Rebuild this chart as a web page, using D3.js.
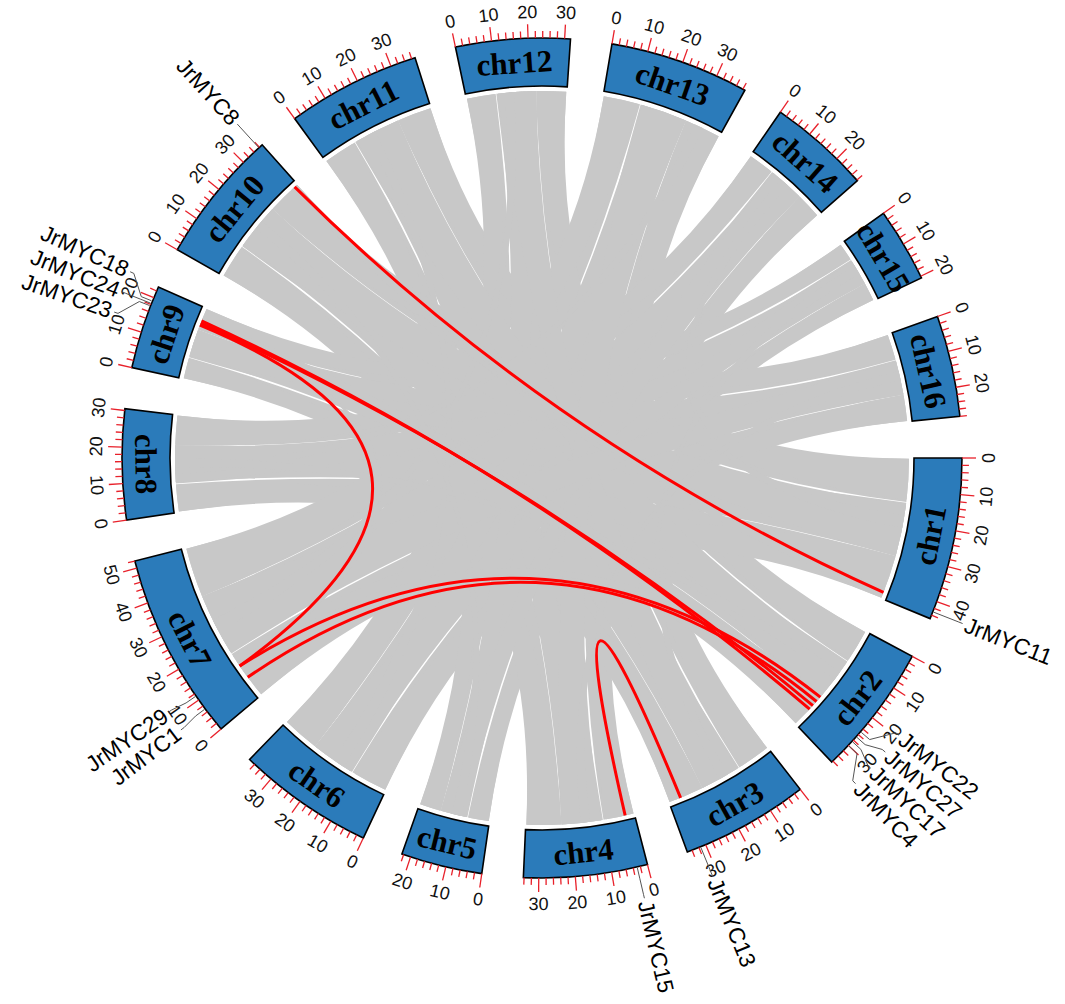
<!DOCTYPE html>
<html>
<head>
<meta charset="utf-8">
<script src="https://cdn.jsdelivr.net/npm/d3@7"></script>
<style>
  body { margin: 0; background: #fff; }
</style>
</head>
<body>
<svg id="chart" width="1065" height="1004"></svg>
<script>
// chromosome sizes (Mb)
const chromNames = ['chr1', 'chr2', 'chr3', 'chr4', 'chr5', 'chr6', 'chr7', 'chr8',
  'chr9', 'chr10', 'chr11', 'chr12', 'chr13', 'chr14', 'chr15', 'chr16'];
const chromLengths = [45, 36.4, 35.4, 34.2, 22.5, 37.9, 52, 30.5, 23.2, 37, 37, 31.6, 38.6, 28.2, 20.5, 28];

// JrMYC genes: chromosome and position (Mb)
const geneNames = ['JrMYC11', 'JrMYC22', 'JrMYC27', 'JrMYC17', 'JrMYC4', 'JrMYC13', 'JrMYC15',
  'JrMYC1', 'JrMYC29', 'JrMYC23', 'JrMYC24', 'JrMYC18', 'JrMYC8'];
const geneChroms = ['chr1', 'chr2', 'chr2', 'chr2', 'chr2', 'chr3', 'chr4',
  'chr7', 'chr7', 'chr9', 'chr9', 'chr9', 'chr10'];
const genePositions = [43, 25, 26.8, 28.5, 30, 31.5, 2.9, 7, 11.3, 17.6, 18.3, 19, 35.8];

// segmental duplication pairs (red links)
const pairFrom = ['JrMYC8', 'JrMYC18', 'JrMYC24', 'JrMYC23', 'JrMYC29', 'JrMYC1', 'JrMYC15'];
const pairTo = ['JrMYC11', 'JrMYC4', 'JrMYC17', 'JrMYC29', 'JrMYC22', 'JrMYC27', 'JrMYC13'];

// collinear blocks: [chrA, startA, endA, chrB, startB, endB] (Mb)
const syntenyBlocks = [
  ['chr1', 0.2, 13.8, 'chr10', 26.2, 36.8],
  ['chr2', 0.2, 10.8, 'chr11', 26.2, 36.8],
  ['chr3', 0.2, 10.8, 'chr12', 22.2, 31.4],
  ['chr4', 0.2, 9.8, 'chr13', 27.2, 38.4],
  ['chr5', 0.2, 6.8, 'chr14', 20.2, 28],
  ['chr6', 0.2, 11.8, 'chr15', 14.7, 20.3],
  ['chr7', 0.2, 15.8, 'chr16', 19.7, 27.8],
  ['chr8', 0.2, 8.8, 'chr1', 31.2, 44.8],
  ['chr9', 0.2, 6.8, 'chr2', 25.2, 36.2],
  ['chr10', 0.2, 10.8, 'chr3', 24.2, 35.2],
  ['chr11', 0.2, 10.8, 'chr4', 23.2, 34],
  ['chr12', 0.2, 9.3, 'chr5', 15.7, 22.3],
  ['chr13', 0.2, 11.8, 'chr6', 26.2, 37.7],
  ['chr14', 0.2, 8.3, 'chr7', 36.2, 51.8],
  ['chr15', 0.2, 5.8, 'chr8', 21.2, 30.3],
  ['chr16', 0.2, 8.3, 'chr9', 16.2, 23],
  ['chr1', 0.2, 13, 'chr11', 26, 36.8],
  ['chr2', 0.2, 10, 'chr12', 22, 31.4],
  ['chr3', 0.2, 10, 'chr13', 27, 38.4],
  ['chr4', 0.2, 9, 'chr14', 20, 28],
  ['chr5', 0.2, 6.5, 'chr15', 14.5, 20.3],
  ['chr6', 0.2, 11, 'chr16', 19.5, 27.8],
  ['chr7', 0.2, 15, 'chr1', 31, 44.8],
  ['chr8', 0.2, 8.5, 'chr2', 25, 36.2],
  ['chr9', 0.2, 6.5, 'chr3', 24, 35.2],
  ['chr10', 0.2, 10, 'chr4', 23, 34],
  ['chr11', 0.2, 10, 'chr5', 15.5, 22.3],
  ['chr12', 0.2, 9, 'chr6', 26, 37.7],
  ['chr13', 0.2, 11, 'chr7', 36, 51.8],
  ['chr14', 0.2, 8, 'chr8', 21, 30.3],
  ['chr15', 0.2, 5.5, 'chr9', 16, 23],
  ['chr16', 0.2, 8, 'chr10', 26, 36.8],
  ['chr1', 14, 30.8, 'chr9', 7, 15.8],
  ['chr2', 11, 25, 'chr10', 11, 26],
  ['chr3', 11, 24, 'chr11', 11, 26],
  ['chr4', 10, 23, 'chr12', 9.5, 22],
  ['chr5', 7, 15.5, 'chr13', 12, 27],
  ['chr6', 12, 26, 'chr14', 8.5, 20],
  ['chr7', 16, 36, 'chr15', 6, 14.5],
  ['chr8', 9, 21, 'chr16', 8.5, 19.5],
  ['chr1', 14.5, 31, 'chr8', 9.5, 21],
  ['chr2', 11.5, 25, 'chr9', 7.5, 16],
  ['chr3', 11.5, 24, 'chr10', 11.5, 26],
  ['chr4', 10.5, 23, 'chr11', 11.5, 26],
  ['chr5', 7.5, 15.5, 'chr12', 10, 22],
  ['chr6', 12.5, 26, 'chr13', 12.5, 27],
  ['chr7', 16.5, 36, 'chr14', 9, 20],
  ['chr8', 9.5, 21, 'chr15', 6.5, 14.5],
  ['chr9', 7.5, 16, 'chr16', 9, 19.5],
  ['chr10', 11.5, 26, 'chr1', 14.5, 31],
  ['chr11', 11.5, 26, 'chr2', 11.5, 25],
  ['chr12', 10, 22, 'chr3', 11.5, 24],
  ['chr13', 12.5, 27, 'chr4', 10.5, 23],
  ['chr14', 9, 20, 'chr5', 7.5, 15.5],
  ['chr15', 6.5, 14.5, 'chr6', 12.5, 26],
  ['chr16', 9, 19.5, 'chr7', 16.5, 36],
  ['chr9', 17, 20, 'chr2', 27.5, 31],
  ['chr7', 6, 12, 'chr2', 24, 27.5],
  ['chr9', 16.5, 18.5, 'chr7', 10.5, 13],
  ['chr3', 30, 33, 'chr4', 1.5, 4.5],
  ['chr10', 34.5, 36.8, 'chr1', 41.5, 44.5],
  ['chr11', 15, 18, 'chr6', 15, 19],
  ['chr13', 30, 33, 'chr8', 12, 15],
  ['chr14', 12, 15, 'chr1', 18, 22],
  ['chr16', 12, 15, 'chr4', 14, 17],
  ['chr12', 12, 15, 'chr7', 24, 28],
  ['chr10', 18, 21, 'chr5', 9, 12],
  ['chr15', 8, 11, 'chr3', 15, 18],
  ['chr8', 14, 17, 'chr2', 15, 18]
];

const tickStep = 2;
const labelStep = 10;

const width = 1065, height = 1004;
const cx = 542, cy = 458;
const rIn = 372, rOut = 420, rLink = 367;
const gapDeg = 5.7, startDeg = 90;

const svg = d3.select('#chart');
const g = svg.append('g').attr('transform', `translate(${cx},${cy})`);

const totalLen = d3.sum(chromLengths);
const lenToDeg = d3.scaleLinear().domain([0, totalLen]).range([0, 360 - gapDeg * chromNames.length]);
const cum = d3.cumsum(chromLengths);
const chromStart = chromNames.map((c, i) => startDeg + lenToDeg(cum[i] - chromLengths[i]) + i * gapDeg);
const chromIndex = new Map(chromNames.map((c, i) => [c, i]));

const rad = (d) => (d * Math.PI) / 180;
const angleOf = (chr, pos) => chromStart[chromIndex.get(chr)] + lenToDeg(pos);
const pt = (r, deg) => [r * Math.sin(rad(deg)), -r * Math.cos(rad(deg))];
const norm = (deg) => ((deg % 360) + 360) % 360;
const tangentRot = (deg) => {
  const a = norm(deg);
  return a > 90 && a < 270 ? a - 180 : a;
};

// grey collinear ribbons
const ribbon = d3.ribbon().radius(rLink);
g.append('g')
  .selectAll('path')
  .data(syntenyBlocks)
  .join('path')
  .attr('d', (d) => ribbon({
    source: { startAngle: rad(angleOf(d[0], d[1])), endAngle: rad(angleOf(d[0], d[2])) },
    target: { startAngle: rad(angleOf(d[3], d[4])), endAngle: rad(angleOf(d[3], d[5])) }
  }))
  .attr('fill', '#c8c8c8');

// red gene-pair links
const geneAngle = new Map(geneNames.map((n, i) => [n, angleOf(geneChroms[i], genePositions[i])]));
function linkPath(a1, a2) {
  const diff = norm(a2 - a1);
  const mid = diff > 180 ? a1 - (360 - diff) / 2 : a1 + diff / 2;
  const p = d3.path();
  const [x1, y1] = pt(rLink, a1);
  const [x2, y2] = pt(rLink, a2);
  const [qx, qy] = pt(18, mid);
  p.moveTo(x1, y1);
  p.quadraticCurveTo(qx, qy, x2, y2);
  return p.toString();
}
g.append('g')
  .selectAll('path')
  .data(pairFrom.map((f, i) => [f, pairTo[i]]))
  .join('path')
  .attr('d', (d) => linkPath(geneAngle.get(d[0]), geneAngle.get(d[1])))
  .attr('fill', 'none')
  .attr('stroke', '#ff0000')
  .attr('stroke-width', 3);

// chromosome blocks
const arc = d3.arc().innerRadius(rIn).outerRadius(rOut);
const chromG = g.append('g')
  .selectAll('g')
  .data(chromNames.map((c, i) => ({ name: c, len: chromLengths[i], start: chromStart[i], end: chromStart[i] + lenToDeg(chromLengths[i]) })))
  .join('g');

chromG.append('path')
  .attr('d', (d) => arc({ startAngle: rad(d.start), endAngle: rad(d.end) }))
  .attr('fill', '#2b7bba')
  .attr('stroke', '#000')
  .attr('stroke-width', 1.6);

chromG.append('text')
  .attr('transform', (d) => {
    const m = (d.start + d.end) / 2;
    const [x, y] = pt((rIn + rOut) / 2, m);
    return `translate(${x},${y}) rotate(${tangentRot(m)})`;
  })
  .attr('text-anchor', 'middle')
  .attr('dominant-baseline', 'central')
  .attr('font-family', '"Liberation Serif", "Times New Roman", serif')
  .attr('font-weight', 'bold')
  .attr('font-size', 31)
  .attr('fill', '#000')
  .text((d) => d.name);

// ticks
chromG.each(function (d) {
  const ticks = d3.range(0, d.len + 0.001, tickStep);
  const sel = d3.select(this);
  sel.append('g')
    .selectAll('line')
    .data(ticks)
    .join('line')
    .each(function (v) {
      const a = angleOf(d.name, v);
      const major = v % labelStep === 0;
      const [x1, y1] = pt(rOut, a);
      const [x2, y2] = pt(rOut + (major ? 14 : 7), a);
      d3.select(this).attr('x1', x1).attr('y1', y1).attr('x2', x2).attr('y2', y2);
    })
    .attr('stroke', '#e8202a')
    .attr('stroke-width', 1.3);
  sel.append('g')
    .selectAll('text')
    .data(ticks.filter((v) => v % labelStep === 0))
    .join('text')
    .attr('transform', (v) => {
      const a = angleOf(d.name, v);
      const [x, y] = pt(446, a);
      return `translate(${x},${y}) rotate(${tangentRot(a)})`;
    })
    .attr('text-anchor', 'middle')
    .attr('dominant-baseline', 'central')
    .attr('font-family', '"Liberation Sans", Arial, sans-serif')
    .attr('font-size', 18)
    .attr('fill', '#111')
    .text((v) => v);
});

// gene labels, spread so they do not overlap
const labels = geneNames.map((n) => ({ name: n, ang: norm(geneAngle.get(n)) }))
  .sort((a, b) => a.ang - b.ang);
const minGap = 2.75;
const groups = labels.map((d) => ({ items: [d], center: d.ang }));
let merged = true;
while (merged) {
  merged = false;
  for (let i = 0; i < groups.length - 1; i++) {
    const g1 = groups[i], g2 = groups[i + 1];
    const end1 = g1.center + ((g1.items.length - 1) * minGap) / 2;
    const start2 = g2.center - ((g2.items.length - 1) * minGap) / 2;
    if (start2 - end1 < minGap) {
      const items = g1.items.concat(g2.items);
      groups.splice(i, 2, { items, center: d3.mean(items, (d) => d.ang) });
      merged = true;
      break;
    }
  }
}
groups.forEach((gr) => gr.items.forEach((d, j) => {
  d.labelAng = gr.center + (j - (gr.items.length - 1) / 2) * minGap;
}));

const labelG = g.append('g');
labelG.selectAll('path')
  .data(labels)
  .join('path')
  .attr('d', (d) => {
    const p = d3.path();
    const a = pt(rOut + 1, d.ang), b = pt(rOut + 12, d.ang), c = pt(rOut + 28, d.labelAng), e = pt(rOut + 32, d.labelAng);
    p.moveTo(a[0], a[1]); p.lineTo(b[0], b[1]); p.lineTo(c[0], c[1]); p.lineTo(e[0], e[1]);
    return p.toString();
  })
  .attr('fill', 'none')
  .attr('stroke', '#555')
  .attr('stroke-width', 1);

labelG.selectAll('text')
  .data(labels)
  .join('text')
  .attr('transform', (d) => {
    const a = norm(d.labelAng);
    const [x, y] = pt(455, a);
    return `translate(${x},${y}) rotate(${a < 180 ? a - 90 : a + 90})`;
  })
  .attr('text-anchor', (d) => (norm(d.labelAng) < 180 ? 'start' : 'end'))
  .attr('dominant-baseline', 'central')
  .attr('font-family', '"Liberation Sans", Arial, sans-serif')
  .attr('font-size', 22.5)
  .attr('fill', '#000')
  .text((d) => d.name);
</script>
</body>
</html>
